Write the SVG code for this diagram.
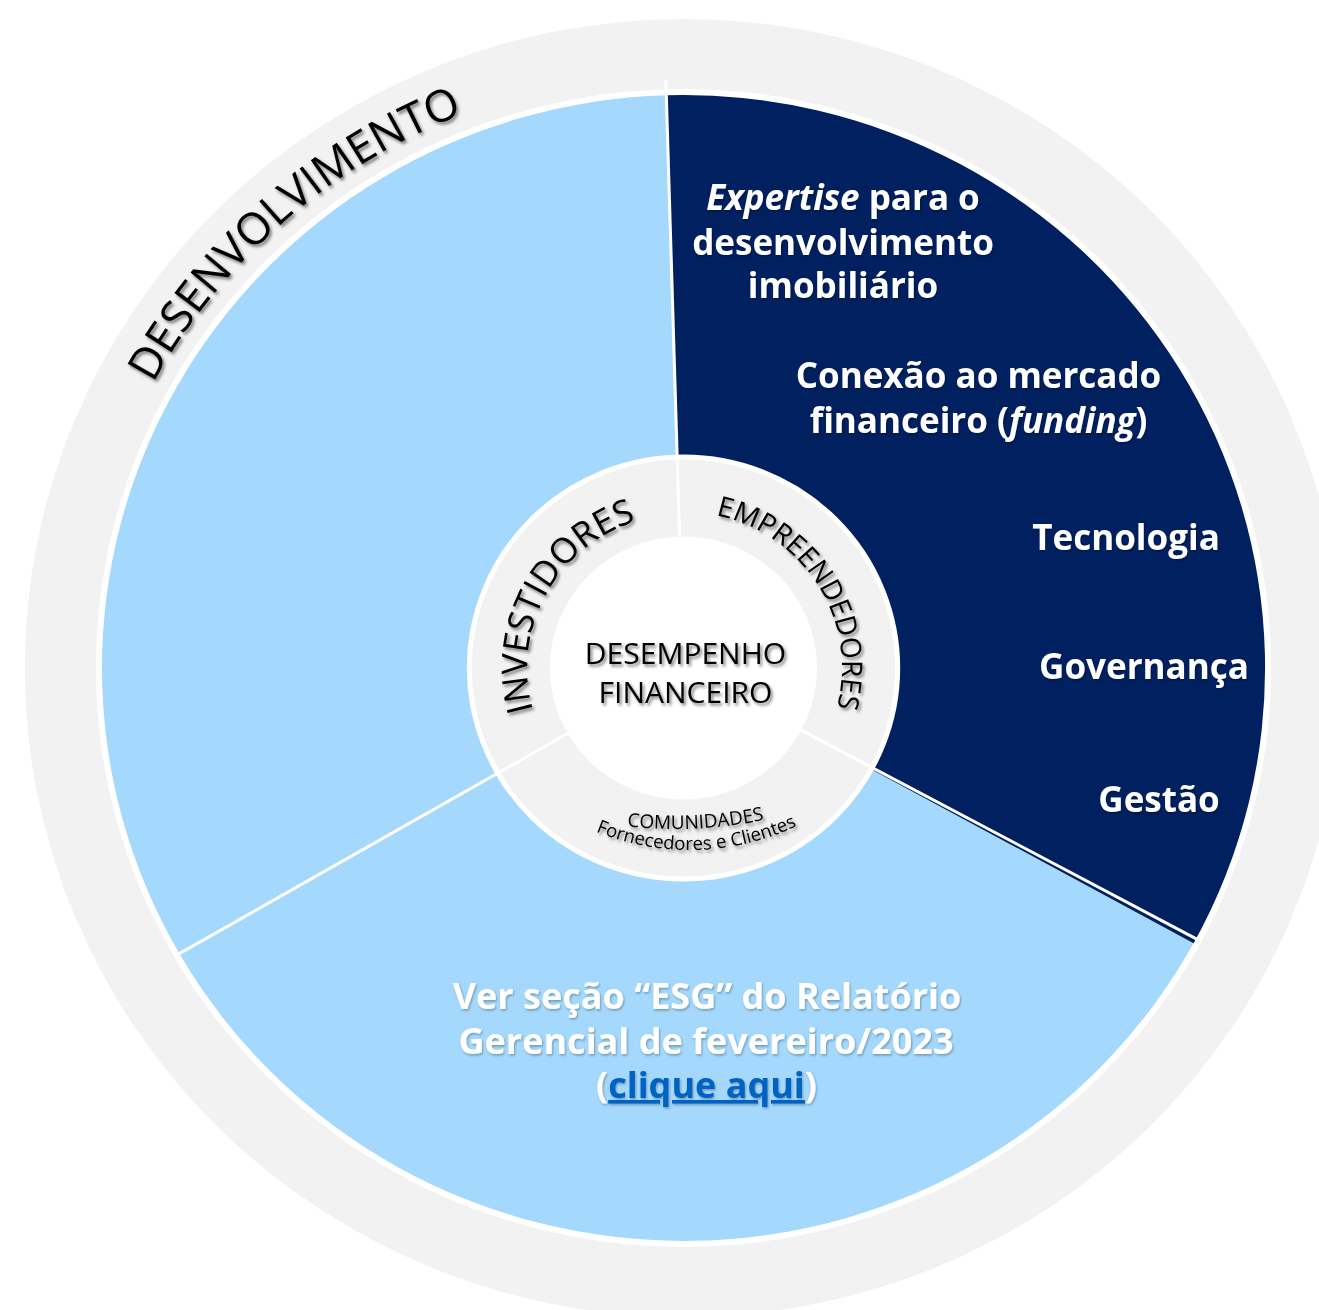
<svg xmlns="http://www.w3.org/2000/svg" width="1319" height="1310" viewBox="0 0 1319 1310">
<defs>
  <filter id="sh" x="-10%" y="-20%" width="130%" height="150%">
    <feDropShadow dx="2" dy="2.5" stdDeviation="1.7" flood-color="#000" flood-opacity="0.5"/>
  </filter>
  <filter id="shw" x="-10%" y="-20%" width="130%" height="150%">
    <feDropShadow dx="1" dy="1.5" stdDeviation="1.2" flood-color="#000" flood-opacity="0.3"/>
  </filter>
  <path id="p-desenv" d="M -595 0 A 595 595 0 0 1 103.3 -586.0"/>
  <path id="p-inv" d="M -99.0 118.0 A 154 154 0 0 1 52.7 -144.7"/>
  <path id="p-emp" d="M -53.4 -146.6 A 156 156 0 0 1 100.3 119.5"/>
  <path id="p-com" d="M 479 781.1 A 429 429 0 0 0 907.6 761.1"/>
  <path id="p-forn" d="M 477.1 731 A 250 250 0 0 0 909.9 718.9"/>
</defs>
<style>
  text { font-family: "Open Sans", "Noto Sans", sans-serif; }
  .dark { fill: #000; filter: url(#sh); }
  .wb { fill: #fff; font-weight: 700; font-size: 35px; filter: url(#shw); text-anchor: middle; }
  .wb2 { font-size: 36px; }
  .div { stroke: #fff; stroke-width: 3; fill: none; }
  .lb { fill: #a4d8fd; }
  .nv { fill: #002060; }
</style>
<rect width="1319" height="1310" fill="#fff"/>
<g transform="translate(683.5 668) scale(1.015 1)">
  <g id="outer-ring">
    <circle r="649" fill="#f2f2f2"/>
    <circle r="579" fill="#fff"/>
    <text class="dark" font-size="44" text-anchor="middle"><textPath href="#p-desenv" startOffset="48.6%">DESENVOLVIMENTO</textPath></text>
  </g>
  <g id="segment-left">
    <path class="lb" d="M 0 0 L -496.7 285.6 A 573 573 0 0 1 -17.0 -572.7 Z"/>
  </g>
  <g id="segment-bottom">
    <path class="lb" d="M 0 0 L 504.5 271.6 A 573 573 0 0 1 -496.7 285.6 Z"/>
  </g>
  <g id="segment-right">
    <path class="nv" d="M 0 0 L -17.0 -572.7 A 573 573 0 0 1 502.6 275.2 Z"/>
  </g>
  <g id="center-ring">
    <circle r="211" fill="#f2f2f2" stroke="#fff" stroke-width="5"/>
    <circle r="131.5" fill="#fff"/>
  </g>
  <g id="connectors">
    <line class="div" x1="-3.9" y1="-131.9" x2="-17.4" y2="-587.7"/>
    <line class="div" x1="115.5" y1="61.9" x2="509.4" y2="273.1"/>
    <line class="div" x1="-113.6" y1="65.3" x2="-501.1" y2="288.1"/>
  </g>
  <g id="investidores">
    <text class="dark" font-size="35" text-anchor="middle"><textPath href="#p-inv" startOffset="48.9%">INVESTIDORES</textPath></text>
  </g>
  <g id="empreendedores">
    <text class="dark" font-size="28" text-anchor="middle"><textPath href="#p-emp" startOffset="48.9%">EMPREENDEDORES</textPath></text>
  </g>
</g>
<g id="comunidades">
  <text class="dark" font-size="19" text-anchor="middle"><textPath href="#p-com" startOffset="50%">COMUNIDADES</textPath></text>
  <text class="dark" font-size="18.5" text-anchor="middle"><textPath href="#p-forn" startOffset="50%">Fornecedores e Clientes</textPath></text>
</g>
<g id="desempenho">
  <text class="dark" font-size="30" text-anchor="middle" x="685.5" y="664">DESEMPENHO</text>
  <text class="dark" font-size="30" text-anchor="middle" x="685.5" y="703">FINANCEIRO</text>
</g>
<g id="right-labels">
  <text class="wb" x="843" y="210"><tspan font-style="italic">Expertise</tspan> para o</text>
  <text class="wb" x="843" y="255">desenvolvimento</text>
  <text class="wb" x="843" y="298">imobiliário</text>
  <text class="wb" x="978.5" y="388">Conexão ao mercado</text>
  <text class="wb" x="978.5" y="433">financeiro (<tspan font-style="italic">funding</tspan>)</text>
  <text class="wb" x="1126" y="550">Tecnologia</text>
  <text class="wb" x="1144" y="679">Governança</text>
  <text class="wb" x="1159" y="812">Gestão</text>
</g>
<g id="bottom-labels">
  <text class="wb wb2" x="707" y="1009">Ver seção “ESG” do Relatório</text>
  <text class="wb wb2" x="706" y="1054">Gerencial de fevereiro/2023</text>
  <text class="wb wb2" x="706.5" y="1098">(<tspan fill="#0563c1" text-decoration="underline">clique aqui</tspan>)</text>
</g>
</svg>
